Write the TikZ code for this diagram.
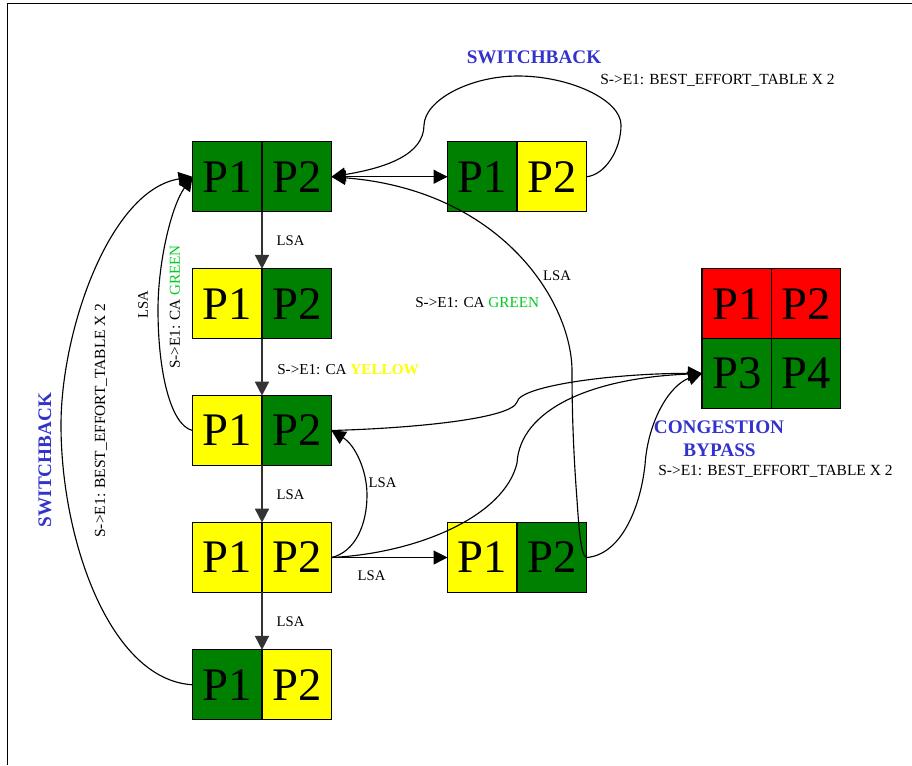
\documentclass[tikz,border=0pt]{standalone}
\usepackage{fontspec}
\setmainfont{Liberation Serif}
\usetikzlibrary{arrows.meta}
\definecolor{cgreen}{HTML}{008000}
\definecolor{cyellow}{HTML}{FFFF00}
\definecolor{cred}{HTML}{FF0000}
\definecolor{cblue}{HTML}{3333CC}
\definecolor{lgreen}{HTML}{00CC22}
\tikzset{
  cell/.style={draw=black,line width=0.8pt,outer sep=0pt,minimum width=52.1pt,minimum height=52.3pt,inner sep=0pt,font=\fontsize{35}{35}\selectfont},
  gc/.style={cell,fill=cgreen},
  yc/.style={cell,fill=cyellow},
  rc/.style={cell,fill=cred},
  tip/.style={-{Triangle[length=10.5pt,width=10.5pt]}},
  vline/.style={tip,line width=1.3pt,draw=black!80},
  curve/.style={tip,line width=0.85pt},
  lab/.style={font=\fontsize{11}{12}\selectfont,inner sep=0pt},
  sub/.style={font=\fontsize{11.6}{13}\selectfont,inner sep=0pt},
  subca/.style={font=\fontsize{11.4}{13}\selectfont,inner sep=0pt},
  head/.style={font=\fontsize{14.4}{16}\selectfont\bfseries,text=cblue,inner sep=0pt},
}
\begin{document}
\begin{tikzpicture}[x=0.75pt,y=-0.75pt]
\useasboundingbox (0,0) rectangle (912,765);
\draw[line width=1pt] (7.3,765) -- (7.3,3.5) -- (912,3.5);
% boxes
\node[gc] (a1) at (227.25,176.75) {P1};
\node[gc,anchor=west] (a2) at (a1.east) {P2};
\node[yc] (b1) at (227.25,303.75) {P1};
\node[gc,anchor=west] (b2) at (b1.east) {P2};
\node[yc] (c1) at (227.25,430.5) {P1};
\node[gc,anchor=west] (c2) at (c1.east) {P2};
\node[yc] (d1) at (227.25,557.5) {P1};
\node[yc,anchor=west] (d2) at (d1.east) {P2};
\node[gc] (e1) at (227.25,684.75) {P1};
\node[yc,anchor=west] (e2) at (e1.east) {P2};
\node[gc] (f1) at (482.25,176.75) {P1};
\node[yc,anchor=west] (f2) at (f1.east) {P2};
\node[yc] (g1) at (482.25,557.5) {P1};
\node[gc,anchor=west] (g2) at (g1.east) {P2};
\node[rc] (h1) at (736.75,303.75) {P1};
\node[rc,anchor=west] (h2) at (h1.east) {P2};
\node[gc,anchor=north] (h3) at (h1.south) {P3};
\node[gc,anchor=west] (h4) at (h3.east) {P4};
% straight connectors
\draw[vline] (a1.south east) -- (b1.north east);
\draw[vline] (b1.south east) -- (c1.north east);
\draw[vline] (c1.south east) -- (d1.north east);
\draw[vline] (d1.south east) -- (e1.north east);
\draw[line width=0.85pt,{Triangle[length=10.5pt,width=10.5pt]}-{Triangle[length=10.5pt,width=10.5pt]}] (a2.east) -- (f1.west);
\draw[curve] (d2.east) -- (g1.west);
% curved connectors
\draw[curve] (f2.east) .. controls (605,175) and (621,150) .. (621,125)
  .. controls (621,100) and (570,76) .. (518,76)
  .. controls (470,76) and (425,100) .. (424,125)
  .. controls (424,155) and (385,168) .. (a2.east);
\draw[curve] (g2.east) .. controls (581,556) and (579,530) .. (577,500)
  .. controls (574,460) and (572,420) .. (572,370)
  .. controls (571,300) and (500,190) .. (a2.east);
\draw[curve] (c2.east) .. controls (420,428) and (512,418) .. (517,402)
  .. controls (520,385) and (620,373) .. (h3.west);
\draw[curve] (d2.east) .. controls (420,553) and (505,515) .. (517,463)
  .. controls (520,410) and (590,378) .. (h3.west);
\draw[curve] (d2.east) .. controls (355,552) and (367,525) .. (367,495)
  .. controls (367,470) and (355,445) .. (c2.east);
\draw[curve] (g2.east) .. controls (620,555) and (640,510) .. (645,465)
  .. controls (648,420) and (670,385) .. (h3.west);
\draw[curve] (c1.west) .. controls (170,425) and (158,370) .. (158,310)
  .. controls (158,260) and (172,205) .. (a1.west);
\draw[curve] (e1.west) .. controls (110,680) and (61,540) .. (61,425)
  .. controls (61,330) and (110,190) .. (a1.west);
% labels
\node[lab] (l1) at (290.5,240.7) {LSA};
\node[subca,anchor=west] (l2) at (277,369.7) {S->E1: CA \textcolor{cyellow}{\textbf{YELLOW}}};
\node[lab,rotate=90] (l3) at (143,305) {LSA};
\node[subca,rotate=90] (l4) at (175,307) {S->E1: CA \textcolor{lgreen}{GREEN}};
\node[sub,rotate=90] (l5) at (101,420.5) {S->E1: BEST\_EFFORT\_TABLE X 2};
\node[head,rotate=90] (t1) at (45,460) {SWITCHBACK};
\node[head] (t2) at (534,57.7) {SWITCHBACK};
\node[sub,anchor=west] (l6) at (600,80.7) {S->E1: BEST\_EFFORT\_TABLE X 2};
\node[lab] (l7) at (557,275.7) {LSA};
\node[subca,anchor=west] (l8) at (415,302.7) {S->E1: CA \textcolor{lgreen}{GREEN}};
\node[lab] (l9) at (382.5,482.7) {LSA};
\node[lab] (l10) at (371.5,575.7) {LSA};
\node[lab] (l11) at (290.5,494.7) {LSA};
\node[lab] (l12) at (290.5,621.7) {LSA};
\node[head] (t3) at (719,427.7) {CONGESTION};
\node[head] (t4) at (719.5,450.7) {BYPASS};
\node[sub,anchor=west] (l13) at (658,471.7) {S->E1: BEST\_EFFORT\_TABLE X 2};
\end{tikzpicture}
\end{document}
